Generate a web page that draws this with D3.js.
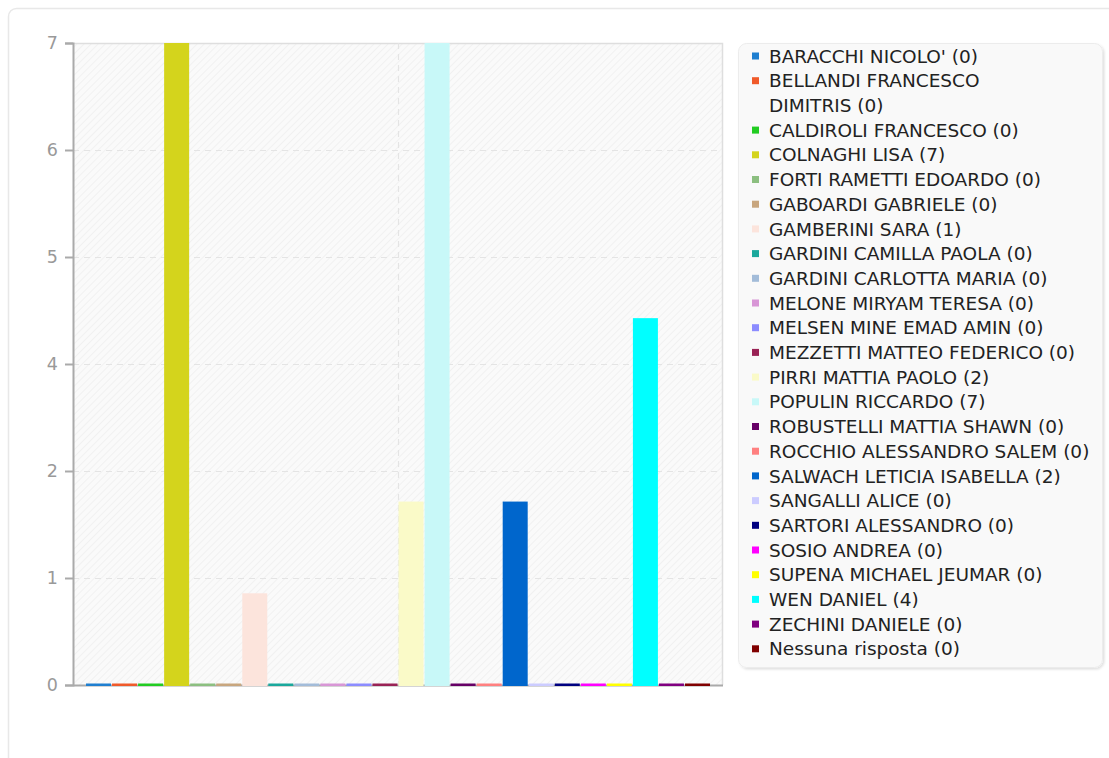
<!DOCTYPE html>
<html>
<head>
<meta charset="utf-8">
<script src="https://cdn.jsdelivr.net/npm/d3@7"></script>
<style>
  html, body { margin: 0; padding: 0; background: #fff; }
  svg { display: block; font-family: "DejaVu Sans", sans-serif; }
</style>
</head>
<body>
<svg id="chart" width="1109" height="758"></svg>
<script>
const names = ["BARACCHI NICOLO'", "BELLANDI FRANCESCO DIMITRIS", "CALDIROLI FRANCESCO", "COLNAGHI LISA",
  "FORTI RAMETTI EDOARDO", "GABOARDI GABRIELE", "GAMBERINI SARA", "GARDINI CAMILLA PAOLA",
  "GARDINI CARLOTTA MARIA", "MELONE MIRYAM TERESA", "MELSEN MINE EMAD AMIN", "MEZZETTI MATTEO FEDERICO",
  "PIRRI MATTIA PAOLO", "POPULIN RICCARDO", "ROBUSTELLI MATTIA SHAWN", "ROCCHIO ALESSANDRO SALEM",
  "SALWACH LETICIA ISABELLA", "SANGALLI ALICE", "SARTORI ALESSANDRO", "SOSIO ANDREA",
  "SUPENA MICHAEL JEUMAR", "WEN DANIEL", "ZECHINI DANIELE", "Nessuna risposta"];
const values = [0, 0, 0, 7, 0, 0, 1, 0, 0, 0, 0, 0, 2, 7, 0, 0, 2, 0, 0, 0, 0, 4, 0, 0];
const colors = ["#1f7fd0", "#f05a2a", "#22cc22", "#d4d41c", "#8cbf80", "#c8a67e", "#fce4dc", "#1aa89c",
  "#a3bcd9", "#d896d6", "#8c8cff", "#992255", "#fafac8", "#c8f8f8", "#660066", "#ff8080",
  "#0066cc", "#ccccff", "#000080", "#ff00ff", "#ffff00", "#00ffff", "#800080", "#800000"];
const yMax = 7;
const yTickCount = 6;
const yTickLabels = ["0", "1", "2", "4", "5", "6", "7"];

const svg = d3.select("#chart");
const defs = svg.append("defs");
const pat = defs.append("pattern").attr("id", "hatch").attr("patternUnits", "userSpaceOnUse")
  .attr("width", 5).attr("height", 5).attr("patternTransform", "rotate(45)");
pat.append("rect").attr("width", 5).attr("height", 5).attr("fill", "#fafafa");
pat.append("line").attr("x1", 0).attr("y1", 0).attr("x2", 0).attr("y2", 5)
  .attr("stroke", "#ececec").attr("stroke-width", 1.2);
const sh = defs.append("filter").attr("id", "shadow").attr("x", "-5%").attr("y", "-5%").attr("width", "110%").attr("height", "110%");
sh.append("feDropShadow").attr("dx", 1.5).attr("dy", 1.5).attr("stdDeviation", 1.2).attr("flood-color", "#000").attr("flood-opacity", 0.12);

// card
svg.append("rect").attr("x", 8.5).attr("y", 8.5).attr("width", 1120).attr("height", 800)
  .attr("rx", 8).attr("fill", "#fff").attr("stroke", "#e8e8e8").attr("stroke-width", 1.5);

const plot = { left: 73, right: 723, top: 43, bottom: 685 };
const x = d3.scaleBand().domain(names).range([plot.left + 13, plot.right - 13]).paddingInner(0.04).paddingOuter(0);
const y = d3.scaleLinear().domain([0, yMax]).range([plot.bottom, plot.top]);
const yTicks = d3.range(yTickCount + 1).map(i => i * yMax / yTickCount);

const g = svg.append("g");
g.append("rect").attr("x", plot.left).attr("y", plot.top)
  .attr("width", plot.right - plot.left).attr("height", plot.bottom - plot.top)
  .attr("fill", "url(#hatch)");
g.append("path").attr("d", `M${plot.left},${plot.top + 0.5}H${plot.right - 0.5}V${plot.bottom}`)
  .attr("fill", "none").attr("stroke", "#dedede").attr("stroke-width", 1.5);

// gridlines
g.selectAll("line.grid").data(yTicks.slice(1, -1)).join("line").attr("class", "grid")
  .attr("x1", plot.left).attr("x2", plot.right - 1)
  .attr("y1", d => Math.round(y(d)) + 0.5).attr("y2", d => Math.round(y(d)) + 0.5)
  .attr("stroke", "#e4e4e4").attr("stroke-width", 1.2).attr("stroke-dasharray", "6,5");
const midX = Math.round((plot.left + plot.right) / 2) + 0.5;
g.append("line").attr("x1", midX).attr("x2", midX).attr("y1", plot.top).attr("y2", plot.bottom)
  .attr("stroke", "#e4e4e4").attr("stroke-width", 1.2).attr("stroke-dasharray", "6,5");

// x baseline
g.append("line").attr("x1", plot.left).attr("x2", plot.right).attr("y1", plot.bottom + 0.5).attr("y2", plot.bottom + 0.5)
  .attr("stroke", "#aaa").attr("stroke-width", 2);

// bars
g.selectAll("rect.bar").data(values).join("rect").attr("class", "bar")
  .attr("x", (d, i) => x(names[i]))
  .attr("width", x.bandwidth())
  .attr("y", d => Math.min(y(d), plot.bottom - 1.5))
  .attr("height", d => Math.max(y(0) - y(d), 1.5) + 1)
  .attr("fill", (d, i) => colors[i]);

// y axis
const yAxis = d3.axisLeft(y).tickValues(yTicks).tickSize(8).tickPadding(7)
  .tickFormat((d, i) => yTickLabels[i]);
const ya = g.append("g").attr("transform", `translate(${plot.left},0)`).call(yAxis);
ya.select(".domain").attr("stroke", "#aaa").attr("stroke-width", 2);
ya.selectAll(".tick line").attr("stroke", "#aaa").attr("stroke-width", 2);
ya.selectAll(".tick text").attr("fill", "#999").attr("font-size", 17.5)
  .attr("font-family", "DejaVu Sans, sans-serif");

// legend
const fs = 18.5;
const lg = svg.append("g");
lg.append("rect").attr("x", 738.5).attr("y", 43.5).attr("width", 364).attr("height", 624)
  .attr("rx", 8).attr("fill", "#f9f9f9").attr("stroke", "#ececec").attr("filter", "url(#shadow)");
const lineH = 24.7;
const maxChars = 26;
let line = 0;
function addText(str) {
  return lg.append("text").attr("x", 769).attr("y", 56 + line * lineH).attr("dy", "0.36em")
    .attr("font-size", fs).attr("fill", "#222").text(str);
}
names.forEach((n, i) => {
  const cy = 56 + line * lineH;
  lg.append("rect").attr("x", 752).attr("y", cy - 3.5).attr("width", 7).attr("height", 7).attr("fill", colors[i]);
  const words = n.split(" ");
  let cur = [];
  words.forEach(w => {
    const trial = cur.concat([w]).join(" ");
    if (trial.length > maxChars && cur.length) {
      addText(cur.join(" "));
      line++;
      cur = [w];
    } else {
      cur.push(w);
    }
  });
  addText(cur.join(" ") + ` (${values[i]})`);
  line++;
});
</script>
</body>
</html>
